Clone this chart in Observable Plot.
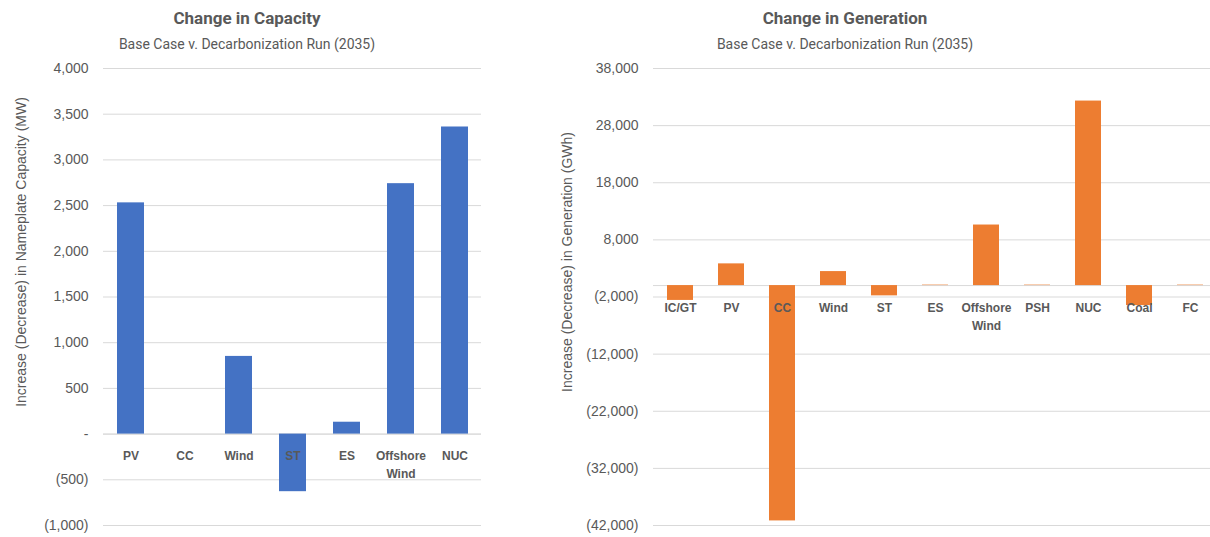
<!DOCTYPE html>
<html>
<head>
<meta charset="utf-8">
<script src="https://cdn.jsdelivr.net/npm/d3@7"></script>
<script src="https://cdn.jsdelivr.net/npm/@observablehq/plot@0.6"></script>
<style>
  html, body { margin: 0; padding: 0; background: #ffffff; }
  body { width: 1210px; height: 537px; position: relative; overflow: hidden; font-family: "Liberation Sans", Arial, sans-serif; }
  .title { position: absolute; transform: translateX(-50%); white-space: nowrap; color: #595959; font-family: Roboto, "Liberation Sans", sans-serif; }
  .t1 { font-size: 17px; font-weight: bold; top: 8px; }
  .t2 { font-size: 14px; top: 36px; }
  .chart { position: absolute; top: 55px; }
</style>
</head>
<body>
<div class="title t1" style="left:247px">Change in Capacity</div>
<div class="title t2" style="left:247px">Base Case v. Decarbonization Run (2035)</div>
<div class="title t1" style="left:845px">Change in Generation</div>
<div class="title t2" style="left:845px">Base Case v. Decarbonization Run (2035)</div>
<div id="left" class="chart" style="left:0px"></div>
<div id="right" class="chart" style="left:540px"></div>
<script>
// ---- Data: Change in Capacity (MW) ----
const capCategories = ["PV", "CC", "Wind", "ST", "ES", "Offshore Wind", "NUC"];
const capValues = [2530, 0, 850, -630, 130, 2740, 3360];
const capTicks = [4000, 3500, 3000, 2500, 2000, 1500, 1000, 500, 0, -500, -1000];
const capAxisLabel = "Increase (Decrease) in Nameplate Capacity (MW)";

// ---- Data: Change in Generation (GWh) ----
const genCategories = ["IC/GT", "PV", "CC", "Wind", "ST", "ES", "Offshore Wind", "PSH", "NUC", "Coal", "FC"];
const genValues = [-2600, 3800, -41200, 2450, -1800, 80, 10600, 80, 32300, -3500, 80];
const genTicks = [38000, 28000, 18000, 8000, -2000, -12000, -22000, -32000, -42000];
const genAxisLabel = "Increase (Decrease) in Generation (GWh)";

const fmt = v => v === 0 ? "-" : (v < 0 ? "(" + d3.format(",")(-v) + ")" : d3.format(",")(v));
const wrap = s => s.replace(" ", "\n");

function makeChart(cats, vals, ticks, label, color, opts) {
  const data = cats.map((c, i) => ({cat: c, value: vals[i]}));
  const xScale = {domain: cats, paddingInner: 0.5, paddingOuter: 0.25, axis: null};
  if (opts.xRange) xScale.range = opts.xRange;
  return Plot.plot({
    width: opts.width,
    height: 482,
    marginTop: 13,
    marginBottom: 12,
    marginLeft: opts.marginLeft,
    marginRight: opts.marginRight,
    style: {fontFamily: "'Liberation Sans', Arial, sans-serif", fontSize: "14px", color: "#595959", background: "#ffffff", overflow: "visible"},
    x: xScale,
    y: {domain: [ticks[ticks.length - 1], ticks[0]], axis: null},
    marks: [
      Plot.gridY(ticks, {stroke: "#d9d9d9", strokeOpacity: 1, strokeWidth: 1}),
      Plot.ruleY([0], {stroke: "#d9d9d9", strokeWidth: 1}),
      Plot.barY(data, {x: "cat", y: "value", fill: color}),
      Plot.axisY(ticks, {tickSize: 0, tickPadding: 15, tickFormat: fmt, label: null, fill: "#595959", fontSize: 14}),
      Plot.text(data, {x: "cat", y: () => 0, text: d => wrap(d.cat), dy: opts.labelDy, lineAnchor: "top", lineHeight: 1.5, fontWeight: "bold", fontSize: 12, fill: "#595959"}),
      Plot.text([label], {frameAnchor: "left", rotate: -90, dx: opts.ylabDx, dy: opts.ylabDy, fontSize: 14, fill: "#595959", textAnchor: "middle"})
    ]
  });
}

document.getElementById("left").appendChild(
  makeChart(capCategories, capValues, capTicks, capAxisLabel, "#4472C4",
    {width: 490, marginLeft: 103, marginRight: 9, labelDy: 13, ylabDx: -82, ylabDy: -45}));
document.getElementById("right").appendChild(
  makeChart(genCategories, genValues, genTicks, genAxisLabel, "#ED7D31",
    {width: 670, marginLeft: 113, marginRight: 0, xRange: [113, 676], labelDy: 14, ylabDx: -86, ylabDy: -35}));
</script>
</body>
</html>
